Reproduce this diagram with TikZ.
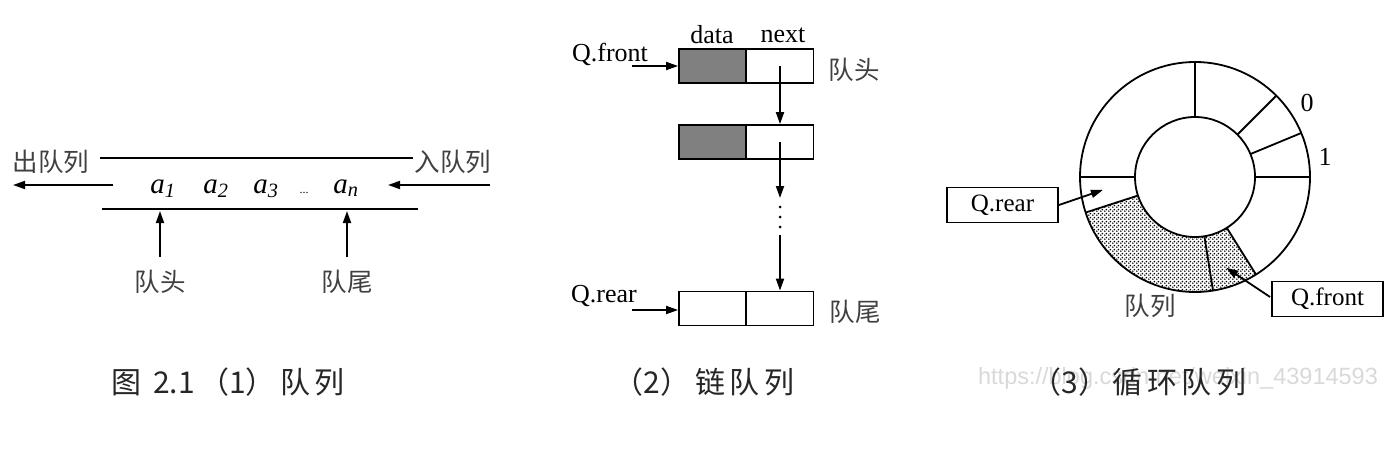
\documentclass[tikz,border=0pt]{standalone}
\usepackage{fontspec}
\setmainfont{Liberation Serif}
\newfontfamily\cjk{Noto Sans CJK SC}
\newfontfamily\wmfont{Liberation Sans}
\usetikzlibrary{arrows.meta,patterns}
\pgfdeclarepatternformonly{mydots}{\pgfpointorigin}{\pgfpoint{4pt}{4pt}}{\pgfpoint{4pt}{4pt}}{%
  \pgfpathcircle{\pgfpoint{1pt}{1pt}}{1.05pt}%
  \pgfpathcircle{\pgfpoint{3pt}{3pt}}{1.05pt}%
  \pgfusepath{fill}}
\newcommand{\cs}{\hspace{4.5pt}}
\begin{document}
\begin{tikzpicture}[x=1pt,y=-1pt,
  line width=1.8pt,
  arr/.style={-{Triangle[length=12pt,width=8pt]}},
  lbl/.style={font=\cjk\fontsize{25.5}{25.5}\selectfont, text=black!75, inner sep=0pt},
  latin/.style={font=\fontsize{26}{26}\selectfont, inner sep=0pt},
  elem/.style={font=\fontsize{29}{29}\selectfont, inner sep=0pt},
  capt/.style={font=\cjk\fontsize{30}{30}\selectfont, text=black!85, inner sep=0pt},
  cell/.style={draw, minimum width=67pt, minimum height=34pt, inner sep=0pt},
  tagbox/.style={draw, minimum width=111pt, minimum height=35pt, inner sep=0pt, font=\fontsize{25}{25}\selectfont}
]
\useasboundingbox (0,0) rectangle (1400,460);

% ---------- panel 1 ----------
\node[lbl] (out) at (51,162) {出队列};
\node[lbl] (in) at (453,162) {入队列};
\coordinate (t1) at (100,158); \coordinate (t2) at (413,158);
\coordinate (b1) at (102,209); \coordinate (b2) at (418,209);
\draw (t1) -- (t2);
\draw (b1) -- (b2);
\coordinate (ol) at (113,185); \coordinate (or) at (13,185);
\draw[arr] (ol) -- (or);
\coordinate (il) at (490,185); \coordinate (ir) at (388,185);
\draw[arr] (il) -- (ir);
\node[elem, anchor=base] (a1) at (163,193) {\textit{a}\textsubscript{\textit{1}}};
\node[elem, anchor=base] (a2) at (216,193) {\textit{a}\textsubscript{\textit{2}}};
\node[elem, anchor=base] (a3) at (266,193) {\textit{a}\textsubscript{\textit{3}}};
\node[font=\fontsize{12}{12}\selectfont, anchor=base, inner sep=0pt] (dd) at (304,193) {...};
\node[elem, anchor=base] (an) at (346,193) {\textit{a}\textsubscript{\textit{n}}};
\node[lbl] (head) at (160,282) {队头};
\node[lbl] (tail) at (347,282) {队尾};
\coordinate (h0) at (160,257); \coordinate (h1) at (160,211);
\coordinate (e0) at (347,257); \coordinate (e1) at (347,211);
\draw[arr] (h0) -- (h1);
\draw[arr] (e0) -- (e1);

% ---------- panel 2 ----------
\node[latin] (data) at (712,35) {data};
\node[latin] (nxt) at (783,35) {next};
\node[cell, fill=black!50] (d1) at (712.5,66) {};
\node[cell] (n1) at (780,66) {};
\node[cell, fill=black!50] (d2) at (712.5,142) {};
\node[cell] (n2) at (780,142) {};
\node[cell] (d3) at (712.5,308.5) {};
\node[cell] (n3) at (780,308.5) {};
\node[latin] (qf) at (610,54) {Q.front};
\node[latin] (qr) at (604,296) {Q.rear};
\coordinate (qf0) at (632,66);
\coordinate (qr0) at (632,310);
\draw[arr] (qf0) -- (d1.west);
\draw[arr] (qr0) -- (d3.west |- qr0);
\draw[arr] (n1.center) -- (n2.north);
\coordinate (v1) at (780,198);
\coordinate (v2) at (780,235);
\draw[arr] (n2.center) -- (v1);
\draw[arr] (v2) -- (n3.north);
\foreach \yy in {207,217,227} \fill (780,\yy) circle[radius=1.5pt];
\node[lbl] (hd2) at (854,70) {队头};
\node[lbl] (tl2) at (855,312) {队尾};

% ---------- panel 3 ----------
\begin{scope}[shift={(1195,177)}, yscale=-1]
  \coordinate (C) at (0,0);
  \fill[pattern=mydots] (198:60) -- (198:115) arc[start angle=198, end angle=302, radius=115] -- (302:60) arc[start angle=302, end angle=198, radius=60] -- cycle;
  \draw (C) circle[radius=115];
  \draw (C) circle[radius=60];
  \foreach \a in {0,22.5,45,90,180,198,279,302} \draw (\a:60) -- (\a:115);
  \coordinate (rtip) at (188:93);
  \coordinate (ftip) at (289:96);
\end{scope}
\node[tagbox] (qrb) at (1002.5,205) {Q.rear};
\node[tagbox] (qfb) at (1327.5,299) {Q.front};
\coordinate (qfs) at (1270,297);
\draw[arr] (qrb.east) -- (rtip);
\draw[arr] (qfs) -- (ftip);
\node[latin] (z0) at (1307,103) {0};
\node[latin] (z1) at (1325,157) {1};
\node[lbl] (ql) at (1150,306) {队列};

% ---------- captions ----------
\node[font=\wmfont\fontsize{23.5}{23.5}\selectfont, text=black!15, inner sep=0pt] (wm) at (1178,378) {https://blog.csdn.net/weixin\_43914593};
\node[capt] (c1) at (228,382) {图\hspace{12pt}2.1\cs（1）\cs 队\cs 列};
\node[capt] (c2) at (704,382) {（2）\cs 链\cs 队\cs 列};
\node[capt] (c3) at (1139,382) {（3）\cs 循\cs 环\cs 队\cs 列};
\end{tikzpicture}
\end{document}
